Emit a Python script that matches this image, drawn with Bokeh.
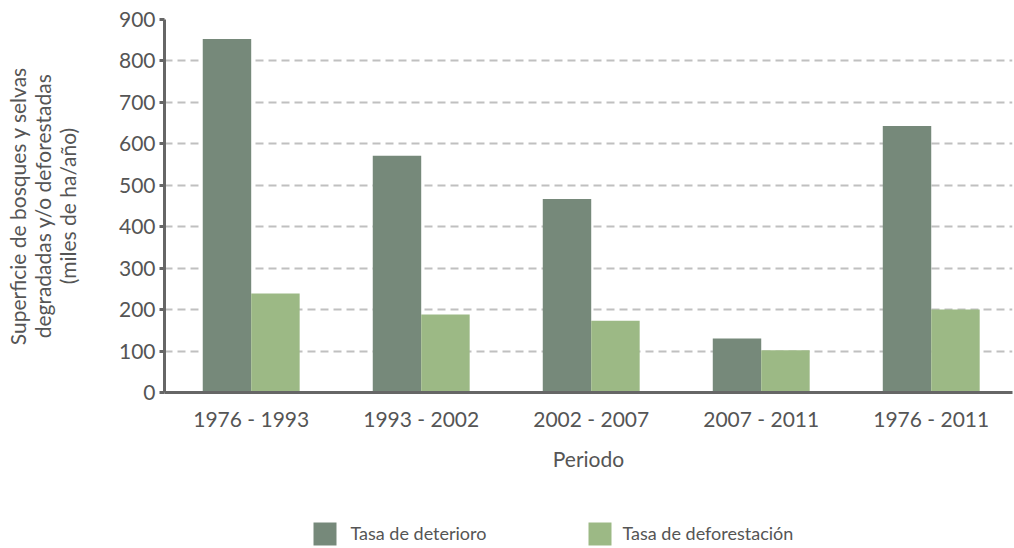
import numpy as np
from bokeh.plotting import figure
from bokeh.layouts import column
from bokeh.models import Range1d, FixedTicker
from bokeh.core.properties import value
from bokeh.embed import file_html
from bokeh.resources import INLINE

# ---- data ----
periods = ["1976 - 1993", "1993 - 2002", "2002 - 2007", "2007 - 2011", "1976 - 2011"]
deterioro = [853, 571, 467, 130, 643]
deforestacion = [239, 188, 173, 102, 200]
y_ticks = [0, 100, 200, 300, 400, 500, 600, 700, 800, 900]
series_names = ["Tasa de deterioro", "Tasa de deforestación"]

FONT = "Lato"
TXT = "#555555"
AX = "#666666"
DARK = "#76897a"
LIGHT = "#9cb985"
series_colors = [DARK, LIGHT]

centers = np.arange(len(periods)) + 0.5
bw = 0.285

p = figure(width=1014, height=500, output_backend="svg", toolbar_location=None,
           x_range=Range1d(-0.01, 4.978), y_range=Range1d(0, 900),
           min_border_left=164, min_border_top=19, min_border_right=2,
           min_border_bottom=108)
p.outline_line_color = None
p.background_fill_color = "white"

p.vbar(x=centers - bw / 2, top=deterioro, width=bw, fill_color=DARK, line_color=None)
p.vbar(x=centers + bw / 2, top=deforestacion, width=bw, fill_color=LIGHT, line_color=None)

# axes
p.xaxis.ticker = FixedTicker(ticks=list(centers))
p.xaxis.major_label_overrides = {float(c): lab for c, lab in zip(centers, periods)}
p.xaxis.major_tick_line_color = None
p.xaxis.minor_tick_line_color = None
p.xaxis.major_tick_out = 0
p.xaxis.major_tick_in = 0
p.xaxis.axis_line_color = AX
p.xaxis.axis_line_width = 3
p.xaxis.major_label_text_font = FONT
p.xaxis.major_label_text_font_size = "21px"
p.xaxis.major_label_text_color = TXT
p.xaxis.major_label_standoff = 13
p.xaxis.axis_label = "Periodo"
p.xaxis.axis_label_text_font = FONT
p.xaxis.axis_label_text_font_size = "21px"
p.xaxis.axis_label_text_font_style = "normal"
p.xaxis.axis_label_text_color = TXT
p.xaxis.axis_label_standoff = 12

p.yaxis.ticker = FixedTicker(ticks=y_ticks)
p.yaxis.minor_tick_line_color = None
p.yaxis.major_tick_out = 5
p.yaxis.major_tick_in = 0
p.yaxis.major_tick_line_color = AX
p.yaxis.major_tick_line_width = 3
p.yaxis.axis_line_color = AX
p.yaxis.axis_line_width = 3
p.yaxis.major_label_text_font = FONT
p.yaxis.major_label_text_font_size = "21px"
p.yaxis.major_label_text_color = TXT
p.yaxis.major_label_standoff = 4
p.yaxis.axis_label = "Superficie de bosques y selvas\ndegradadas y/o deforestadas\n(miles de ha/año)"
p.yaxis.axis_label_text_font = FONT
p.yaxis.axis_label_text_font_size = "21px"
p.yaxis.axis_label_text_line_height = 1.0
p.yaxis.axis_label_text_font_style = "normal"
p.yaxis.axis_label_text_color = TXT
p.yaxis.axis_label_standoff = 36

p.xgrid.grid_line_color = None
p.ygrid.ticker = FixedTicker(ticks=y_ticks[1:])
p.ygrid.grid_line_color = "#c0c0c0"
p.ygrid.grid_line_width = 2
p.ygrid.grid_line_dash = "8 5"

# ---- legend strip below the chart (frame shares the chart's left edge) ----
p2 = figure(width=1014, height=48, output_backend="svg", toolbar_location=None,
            x_range=Range1d(164, 1012), y_range=Range1d(48, 0),
            x_axis_location=None, y_axis_location=None,
            min_border_left=0, min_border_right=0, min_border_top=0, min_border_bottom=0)
p2.outline_line_color = None
p2.xgrid.grid_line_color = None
p2.ygrid.grid_line_color = None

sw_x = [324.5, 599.5]   # swatch centres (page px)
lab_x = [350, 622]      # label starts (page px)
p2.rect(x=sw_x, y=[33.5, 33.5], width=23, height=23,
        fill_color=series_colors, line_color=None)
p2.text(x=lab_x, y=[32, 32], text=series_names, text_baseline="middle",
        text_align="left", text_font=value(FONT), text_font_size=value("18px"),
        text_color=TXT)

layout = column(p, p2, spacing=0)
open("out.html", "w").write(file_html(layout, INLINE))
